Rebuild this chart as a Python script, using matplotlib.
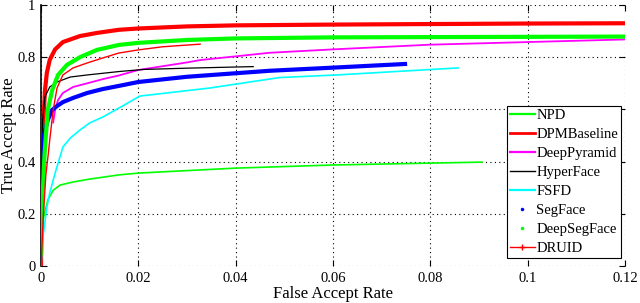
import matplotlib
matplotlib.use("Agg")
import matplotlib.pyplot as plt
from matplotlib.lines import Line2D

plt.rcParams['font.family'] = ['Liberation Serif', 'DejaVu Serif']

# ---- data ----
npd_far = [0, 0.0002, 0.0004, 0.0014, 0.0025, 0.0039, 0.0066, 0.01, 0.016, 0.02, 0.0368, 0.04, 0.06, 0.0906]
npd_tar = [0.08, 0.13, 0.176, 0.253, 0.29, 0.31, 0.322, 0.333, 0.349, 0.356, 0.372, 0.375, 0.387, 0.398]

dpm_far = [0, 0.0002, 0.0005, 0.0008, 0.0012, 0.0018, 0.0029, 0.0045, 0.008, 0.0115, 0.016, 0.02, 0.03, 0.04, 0.06, 0.08, 0.1, 0.12]
dpm_tar = [0, 0.3, 0.55, 0.67, 0.74, 0.79, 0.83, 0.858, 0.881, 0.893, 0.905, 0.91, 0.918, 0.922, 0.925, 0.927, 0.929, 0.93]

dp_far = [0.0025, 0.0029, 0.0035, 0.0045, 0.0066, 0.0095, 0.0127, 0.016, 0.02, 0.03, 0.0327, 0.047, 0.06, 0.08, 0.1, 0.12]
dp_tar = [0.55, 0.598, 0.636, 0.663, 0.686, 0.70, 0.716, 0.73, 0.751, 0.78, 0.789, 0.817, 0.83, 0.848, 0.858, 0.868]

hf_far = [0, 0.0003, 0.0008, 0.0018, 0.0033, 0.006, 0.0095, 0.016, 0.021, 0.03, 0.0436]
hf_tar = [0.2, 0.55, 0.648, 0.686, 0.705, 0.724, 0.732, 0.745, 0.753, 0.758, 0.764]

fsfd_far = [0, 0.0004, 0.0012, 0.0018, 0.0029, 0.0039, 0.0045, 0.006, 0.008, 0.01, 0.0127, 0.016, 0.0203, 0.0347, 0.049, 0.0608, 0.0857]
fsfd_tar = [0.0, 0.11, 0.226, 0.28, 0.356, 0.418, 0.456, 0.49, 0.521, 0.548, 0.571, 0.605, 0.651, 0.682, 0.722, 0.732, 0.759]

seg_far = [0, 0.0002, 0.0006, 0.0014, 0.0023, 0.0033, 0.0045, 0.0066, 0.0095, 0.0127, 0.016, 0.02, 0.03, 0.047, 0.06, 0.0748]
seg_tar = [0.2, 0.4, 0.5, 0.56, 0.598, 0.613, 0.628, 0.644, 0.663, 0.678, 0.69, 0.705, 0.725, 0.748, 0.76, 0.774]

dseg_far = [0, 0.0003, 0.0007, 0.001, 0.0014, 0.0023, 0.0035, 0.0053, 0.008, 0.0115, 0.016, 0.02, 0.03, 0.04, 0.06, 0.08, 0.1, 0.12]
dseg_tar = [0.05, 0.25, 0.42, 0.5, 0.598, 0.674, 0.732, 0.77, 0.80, 0.828, 0.847, 0.855, 0.866, 0.872, 0.876, 0.877, 0.878, 0.879]

druid_far = [0, 0.0005, 0.001, 0.0015, 0.0018, 0.0025, 0.0033, 0.0045, 0.0066, 0.0095, 0.0127, 0.016, 0.02, 0.025, 0.0327]
druid_tar = [0, 0.2, 0.35, 0.43, 0.483, 0.598, 0.682, 0.732, 0.759, 0.778, 0.797, 0.816, 0.828, 0.84, 0.85]

labels = ['NPD', 'DPMBaseline', 'DeepPyramid', 'HyperFace', 'FSFD', 'SegFace', 'DeepSegFace', 'DRUID']
xticks = [0, 0.02, 0.04, 0.06, 0.08, 0.1, 0.12]
xticklabels = ['0', '0.02', '0.04', '0.06', '0.08', '0.1', '0.12']
yticks = [0, 0.2, 0.4, 0.6, 0.8, 1.0]
yticklabels = ['0', '0.2', '0.4', '0.6', '0.8', '1']

fig = plt.figure(figsize=(6.4, 3.03), dpi=100)
ax = fig.add_axes([41/640, 37/303, 584/640, 261/303])

ax.plot(npd_far, npd_tar, color='#00ff00', lw=1.2, zorder=3)
ax.plot(dpm_far, dpm_tar, color='#ff0000', lw=3.0, zorder=4)
ax.plot(dp_far, dp_tar, color='#ff00ff', lw=1.3, zorder=5)
ax.plot(hf_far, hf_tar, color='black', lw=0.9, zorder=6)
ax.plot(fsfd_far, fsfd_tar, color='#00ffff', lw=1.2, zorder=7)
ax.plot(seg_far, seg_tar, color='#0000ff', lw=3.0, zorder=8)
ax.plot(dseg_far, dseg_tar, color='#00ff00', lw=3.0, zorder=9)
ax.plot(druid_far, druid_tar, color='#ff0000', lw=1.0, zorder=10)

ax.set_xlim(0, 0.12)
ax.set_ylim(0, 1)
ax.set_xticks(xticks)
ax.set_xticklabels(xticklabels)
ax.set_yticks(yticks)
ax.set_yticklabels(yticklabels)
ax.tick_params(direction='in', length=4, width=0.8, labelsize=10.5, top=True, right=True, pad=4)
ax.grid(True, color='black', linestyle=(0, (1, 3)), linewidth=0.8)
for s in ['top', 'right', 'bottom']:
    ax.spines[s].set_visible(False)
ax.spines['left'].set_linewidth(1.2)

ax.set_xlabel('False Accept Rate', fontsize=12, labelpad=1)
ax.set_ylabel('True Accept Rate', fontsize=12)
ax.yaxis.set_label_coords(-0.041, 0.5)

handles = [
    Line2D([], [], color='#00ff00', lw=1.6),
    Line2D([], [], color='#ff0000', lw=2.0),
    Line2D([], [], color='#ff00ff', lw=1.6),
    Line2D([], [], color='black', lw=1.0),
    Line2D([], [], color='#00ffff', lw=1.6),
    Line2D([], [], color='#0000ff', lw=0, marker='.', markersize=3),
    Line2D([], [], color='#00ff00', lw=0, marker='.', markersize=3),
    Line2D([], [], color='#ff0000', lw=1.0, marker='+', markersize=4),
]
leg = ax.legend(handles, labels, loc='upper left', bbox_to_anchor=(0.798, 0.613),
                fontsize=10.5, frameon=True, fancybox=False, framealpha=1,
                edgecolor='black', borderpad=0.2, labelspacing=0.4,
                handlelength=1.7, handletextpad=0.1, borderaxespad=0)
leg.get_frame().set_linewidth(0.8)
leg.set_zorder(20)

fig.savefig('out.png', dpi=100)
